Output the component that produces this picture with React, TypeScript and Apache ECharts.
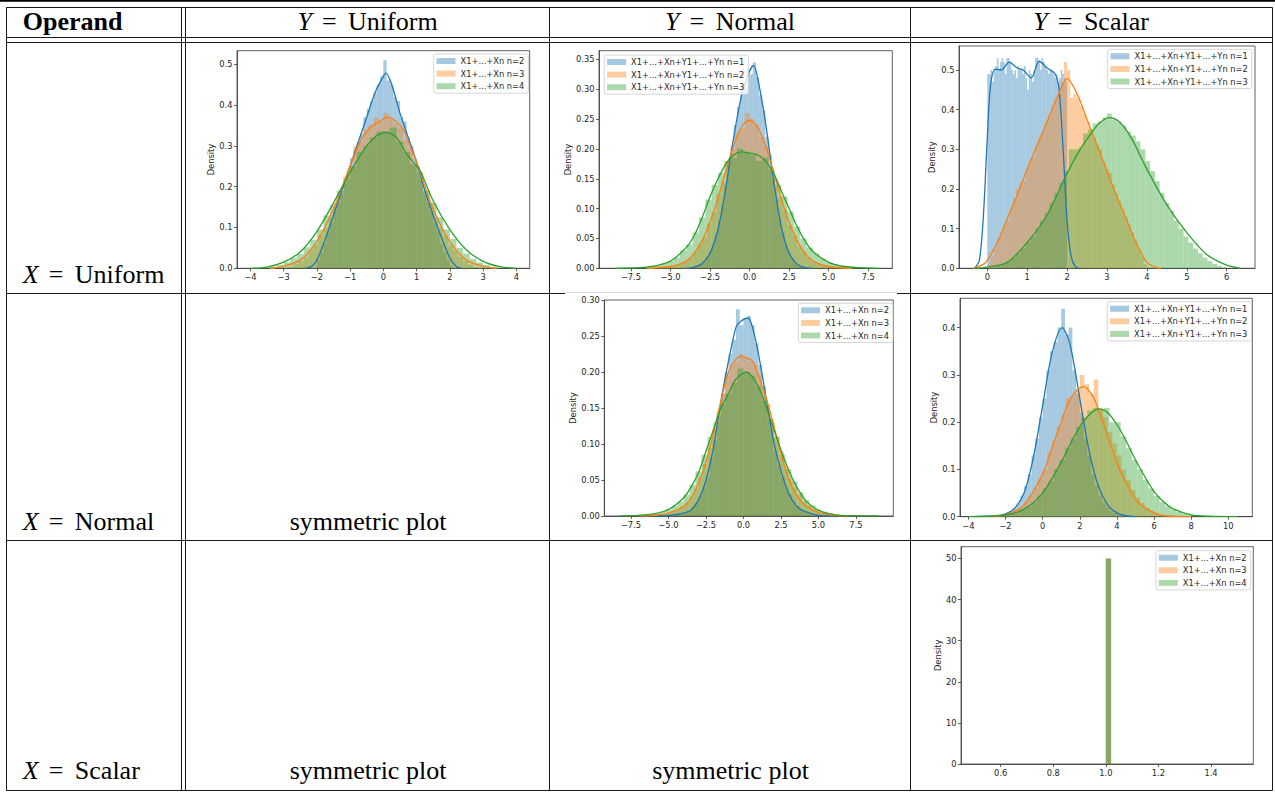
import React, { useEffect, useRef } from "react";
import * as echarts from "echarts";

// ---------- colours ----------
const SOLID = ["#1f77b4", "#ff7f0e", "#2ca02c"];
const ALPHA = ["rgba(31,119,180,0.4)", "rgba(255,127,14,0.4)", "rgba(44,160,44,0.4)"];

// ---------- legend names ----------
const sumXNames = ["X1+...+Xn n=2", "X1+...+Xn n=3", "X1+...+Xn n=4"];
const sumXYNames = ["X1+...+Xn+Y1+...+Yn n=1", "X1+...+Xn+Y1+...+Yn n=2", "X1+...+Xn+Y1+...+Yn n=3"];

// ---------- chart 1 : X uniform, Y uniform ----------
const c1BinStart = [-2.0, -3.0, -4.0];
const c1BinWidth = [0.1, 0.15, 0.2];
const c1BlueHist = [0.02, 0.04, 0.06, 0.09, 0.11, 0.14, 0.16, 0.19, 0.21, 0.24, 0.27, 0.29, 0.31, 0.33, 0.37, 0.39, 0.41, 0.43, 0.45, 0.47, 0.51, 0.46, 0.45, 0.42, 0.41, 0.37, 0.36, 0.32, 0.30, 0.27, 0.25, 0.22, 0.19, 0.16, 0.14, 0.11, 0.09, 0.06, 0.04, 0.02, 0.005];
const c1OrangeHist = [0.0, 0.004, 0.01, 0.018, 0.027, 0.045, 0.058, 0.082, 0.10, 0.125, 0.16, 0.18, 0.225, 0.25, 0.30, 0.31, 0.34, 0.35, 0.37, 0.36, 0.38, 0.365, 0.355, 0.345, 0.315, 0.295, 0.25, 0.225, 0.18, 0.16, 0.125, 0.1, 0.08, 0.058, 0.043, 0.028, 0.018, 0.009, 0.003, 0.0];
const c1GreenHist = [0.0, 0.0005, 0.002, 0.004, 0.008, 0.015, 0.025, 0.035, 0.052, 0.07, 0.095, 0.13, 0.155, 0.19, 0.22, 0.25, 0.285, 0.30, 0.32, 0.335, 0.335, 0.345, 0.31, 0.285, 0.255, 0.235, 0.19, 0.16, 0.125, 0.095, 0.072, 0.05, 0.036, 0.023, 0.014, 0.008, 0.004, 0.0015, 0.0003, 0.0];
const c1BlueKde = [[-2.35, 0], [-2.15, 0.005], [-2.0, 0.02], [-1.75, 0.07], [-1.5, 0.13], [-1.25, 0.19], [-1.0, 0.25], [-0.75, 0.31], [-0.5, 0.37], [-0.25, 0.43], [0, 0.47], [0.08, 0.478], [0.25, 0.45], [0.5, 0.38], [0.75, 0.32], [1.0, 0.26], [1.25, 0.19], [1.5, 0.13], [1.75, 0.075], [2.0, 0.025], [2.2, 0.004], [2.35, 0]];
const c1OrangeKde = [[-3.4, 0], [-3, 0.005], [-2.5, 0.02], [-2, 0.065], [-1.5, 0.145], [-1, 0.25], [-0.7, 0.31], [-0.4, 0.345], [-0.1, 0.36], [0.1, 0.37], [0.3, 0.365], [0.6, 0.34], [0.8, 0.3], [1, 0.26], [1.5, 0.145], [2, 0.065], [2.5, 0.02], [3, 0.005], [3.4, 0]];
const c1GreenKde = [[-4, 0], [-3.5, 0.003], [-3, 0.015], [-2.5, 0.04], [-2, 0.09], [-1.5, 0.16], [-1, 0.235], [-0.5, 0.3], [-0.2, 0.325], [0.1, 0.333], [0.4, 0.32], [0.7, 0.28], [0.9, 0.26], [1.1, 0.24], [1.5, 0.165], [2, 0.095], [2.5, 0.045], [3, 0.017], [3.5, 0.004], [4, 0]];
const c1XTicks = [-4, -3, -2, -1, 0, 1, 2, 3, 4];
const c1YTicks = [0, 0.1, 0.2, 0.3, 0.4, 0.5];

// ---------- chart 2 : X uniform, Y normal ----------
const c2BinStart = [-3.6, -6.0, -8.4];
const c2BinWidth = [0.2, 0.3, 0.4];
const c2BlueHist = [0.002, 0.004, 0.007, 0.012, 0.02, 0.028, 0.04, 0.058, 0.08, 0.105, 0.14, 0.175, 0.205, 0.24, 0.27, 0.29, 0.31, 0.335, 0.325, 0.345, 0.32, 0.29, 0.265, 0.22, 0.19, 0.15, 0.115, 0.085, 0.06, 0.04, 0.027, 0.018, 0.01, 0.006, 0.003, 0.001];
const c2OrangeHist = [0.0004, 0.001, 0.0015, 0.003, 0.005, 0.007, 0.012, 0.017, 0.027, 0.04, 0.052, 0.075, 0.094, 0.125, 0.145, 0.18, 0.2, 0.225, 0.235, 0.26, 0.25, 0.24, 0.22, 0.205, 0.17, 0.15, 0.12, 0.098, 0.072, 0.055, 0.037, 0.028, 0.018, 0.011, 0.007, 0.004, 0.0025, 0.0015, 0.0008, 0.0004];
const c2GreenHist = [0.0003, 0.0005, 0.0008, 0.001, 0.002, 0.003, 0.005, 0.008, 0.012, 0.018, 0.03, 0.04, 0.06, 0.085, 0.115, 0.14, 0.16, 0.18, 0.185, 0.2, 0.195, 0.19, 0.18, 0.185, 0.165, 0.14, 0.12, 0.095, 0.07, 0.05, 0.035, 0.025, 0.017, 0.01, 0.007, 0.004, 0.0025, 0.0015, 0.001, 0.0005, 0.0003, 0.0002];
const c2BlueKde = [[-4, 0], [-3.5, 0.002], [-3, 0.008], [-2.5, 0.025], [-2, 0.065], [-1.5, 0.135], [-1, 0.22], [-0.5, 0.29], [0, 0.33], [0.25, 0.34], [0.5, 0.32], [1, 0.245], [1.5, 0.15], [2, 0.07], [2.5, 0.025], [3, 0.007], [3.5, 0.001], [4, 0]];
const c2OrangeKde = [[-6.5, 0], [-6, 0.0005], [-5, 0.003], [-4.5, 0.006], [-4, 0.012], [-3.5, 0.025], [-3, 0.046], [-2.5, 0.077], [-2, 0.117], [-1.5, 0.163], [-1, 0.206], [-0.5, 0.237], [0, 0.248], [0.5, 0.237], [1, 0.206], [1.5, 0.163], [2, 0.117], [2.5, 0.077], [3, 0.046], [3.5, 0.025], [4, 0.012], [5, 0.003], [6, 0.0005], [6.5, 0]];
const c2GreenKde = [[-8.5, 0], [-7, 0.001], [-6, 0.004], [-5, 0.012], [-4, 0.035], [-3.5, 0.055], [-3, 0.085], [-2.5, 0.12], [-2, 0.15], [-1.5, 0.175], [-1, 0.19], [-0.5, 0.195], [0, 0.193], [0.5, 0.19], [1, 0.18], [1.5, 0.16], [2, 0.13], [2.5, 0.1], [3, 0.07], [3.5, 0.046], [4, 0.028], [5, 0.01], [6, 0.003], [7, 0.001], [8.2, 0]];
const c2XTicks = [-7.5, -5, -2.5, 0, 2.5, 5, 7.5];
const c2YTicks = [0, 0.05, 0.1, 0.15, 0.2, 0.25, 0.3, 0.35];

// ---------- chart 3 : X uniform, Y scalar ----------
const c3BinStart = [0, 0, 0];
const c3BinWidth = [0.04, 0.08, 0.12];
const c3BlueHist = [0.49, 0.49, 0.5, 0.47, 0.5, 0.51, 0.53, 0.5, 0.52, 0.53, 0.52, 0.49, 0.53, 0.53, 0.52, 0.5, 0.49, 0.5, 0.48, 0.51, 0.5, 0.5, 0.49, 0.51, 0.48, 0.45, 0.5, 0.49, 0.47, 0.5, 0.53, 0.53, 0.52, 0.5, 0.53, 0.52, 0.51, 0.5, 0.49, 0.5, 0.5, 0.49, 0.48, 0.49, 0.47, 0.48, 0.5, 0.49, 0.48, 0.47];
const c3OrangeHist = [0.01, 0.03, 0.05, 0.075, 0.09, 0.11, 0.12, 0.15, 0.175, 0.2, 0.215, 0.22, 0.25, 0.27, 0.28, 0.31, 0.33, 0.345, 0.37, 0.385, 0.41, 0.43, 0.44, 0.47, 0.52, 0.5, 0.43, 0.44, 0.43, 0.41, 0.39, 0.37, 0.35, 0.33, 0.31, 0.3, 0.27, 0.25, 0.24, 0.21, 0.19, 0.17, 0.15, 0.13, 0.11, 0.09, 0.07, 0.05, 0.03, 0.01];
const c3GreenHist = [0.0002, 0.002, 0.006, 0.011, 0.018, 0.027, 0.038, 0.05, 0.065, 0.08, 0.1, 0.12, 0.14, 0.165, 0.19, 0.215, 0.245, 0.3, 0.3, 0.305, 0.34, 0.35, 0.365, 0.37, 0.38, 0.39, 0.375, 0.37, 0.36, 0.345, 0.335, 0.32, 0.3, 0.27, 0.245, 0.22, 0.19, 0.165, 0.145, 0.12, 0.1, 0.08, 0.065, 0.05, 0.038, 0.027, 0.018, 0.011, 0.006, 0.002];
const c3BlueKde = [[-0.32, 0], [-0.2, 0.02], [-0.1, 0.13], [0, 0.33], [0.08, 0.46], [0.2, 0.502], [0.35, 0.5], [0.55, 0.52], [0.75, 0.505], [0.9, 0.5], [1.1, 0.48], [1.3, 0.522], [1.5, 0.505], [1.7, 0.49], [1.8, 0.45], [1.9, 0.3], [2.0, 0.12], [2.1, 0.03], [2.2, 0.005], [2.3, 0]];
const c3OrangeKde = [[-0.35, 0], [-0.1, 0.01], [0, 0.02], [0.25, 0.065], [0.5, 0.125], [0.75, 0.185], [1, 0.25], [1.25, 0.31], [1.5, 0.37], [1.75, 0.43], [2, 0.478], [2.25, 0.44], [2.5, 0.375], [2.75, 0.31], [3, 0.245], [3.25, 0.18], [3.5, 0.12], [3.75, 0.06], [4, 0.015], [4.2, 0.003], [4.35, 0]];
const c3GreenKde = [[-0.35, 0], [0, 0.003], [0.5, 0.015], [1, 0.065], [1.5, 0.135], [2, 0.24], [2.3, 0.295], [2.6, 0.34], [2.8, 0.365], [3.05, 0.38], [3.3, 0.37], [3.6, 0.33], [4, 0.25], [4.5, 0.16], [5, 0.09], [5.5, 0.035], [6, 0.008], [6.35, 0]];
const c3XTicks = [0, 1, 2, 3, 4, 5, 6];
const c3YTicks = [0, 0.1, 0.2, 0.3, 0.4, 0.5];

// ---------- chart 4 : X normal, Y normal ----------
const c4BinStart = [-5.0, -6.0, -8.4];
const c4BinWidth = [0.25, 0.3, 0.4];
const c4BlueHist = [0.001, 0.0015, 0.002, 0.003, 0.005, 0.008, 0.012, 0.018, 0.027, 0.04, 0.055, 0.08, 0.105, 0.14, 0.17, 0.2, 0.225, 0.245, 0.287, 0.265, 0.275, 0.278, 0.265, 0.24, 0.21, 0.18, 0.15, 0.12, 0.09, 0.07, 0.055, 0.04, 0.03, 0.02, 0.013, 0.009, 0.006, 0.004, 0.002, 0.001];
const c4OrangeHist = [0.0008, 0.0012, 0.002, 0.004, 0.006, 0.009, 0.013, 0.019, 0.027, 0.038, 0.054, 0.072, 0.095, 0.12, 0.145, 0.17, 0.195, 0.21, 0.215, 0.225, 0.22, 0.215, 0.21, 0.195, 0.175, 0.155, 0.13, 0.11, 0.09, 0.07, 0.052, 0.04, 0.03, 0.02, 0.014, 0.009, 0.006, 0.004, 0.002, 0.001];
const c4GreenHist = [0.0002, 0.0003, 0.0005, 0.001, 0.0015, 0.0025, 0.004, 0.006, 0.009, 0.014, 0.02, 0.03, 0.043, 0.062, 0.085, 0.11, 0.13, 0.155, 0.17, 0.185, 0.205, 0.2, 0.195, 0.18, 0.16, 0.135, 0.11, 0.085, 0.065, 0.048, 0.033, 0.022, 0.015, 0.009, 0.006, 0.004, 0.0025, 0.0015, 0.001, 0.0006, 0.0004, 0.0002, 0.0001, 0.0001];
const c4BlueKde = [[-6, 0], [-5, 0.001], [-4, 0.004], [-3.5, 0.008], [-3, 0.022], [-2.5, 0.05], [-2, 0.095], [-1.5, 0.16], [-1, 0.215], [-0.5, 0.262], [-0.2, 0.27], [0.3, 0.275], [0.6, 0.262], [1, 0.225], [1.5, 0.165], [2, 0.105], [2.5, 0.063], [3, 0.032], [3.5, 0.015], [4, 0.007], [5, 0.001], [6, 0]];
const c4OrangeKde = [[-7, 0], [-6, 0.001], [-5, 0.004], [-4, 0.013], [-3.5, 0.025], [-3, 0.045], [-2.5, 0.075], [-2, 0.115], [-1.5, 0.16], [-1, 0.2], [-0.5, 0.218], [-0.2, 0.222], [0.3, 0.219], [0.6, 0.215], [1, 0.195], [1.5, 0.165], [2, 0.127], [2.5, 0.087], [3, 0.052], [3.5, 0.03], [4, 0.017], [5, 0.005], [6, 0.001], [7, 0]];
const c4GreenKde = [[-8.2, 0], [-7, 0.001], [-6, 0.003], [-5, 0.009], [-4, 0.025], [-3.5, 0.04], [-3, 0.06], [-2.5, 0.09], [-2, 0.12], [-1.5, 0.15], [-1, 0.17], [-0.5, 0.19], [0.2, 0.2], [0.7, 0.19], [1.2, 0.17], [1.7, 0.14], [2.2, 0.11], [2.7, 0.08], [3.2, 0.055], [3.7, 0.035], [4.2, 0.02], [5, 0.008], [6, 0.002], [7, 0.0005], [9, 0]];
const c4XTicks = [-7.5, -5, -2.5, 0, 2.5, 5, 7.5];
const c4YTicks = [0, 0.05, 0.1, 0.15, 0.2, 0.25, 0.3];

// ---------- chart 5 : X normal, Y scalar ----------
const c5BinStart = [-2.6, -2.5, -2.4];
const c5BinWidth = [0.2, 0.25, 0.3];
const c5BlueHist = [0.002, 0.003, 0.005, 0.007, 0.012, 0.018, 0.028, 0.045, 0.065, 0.09, 0.13, 0.165, 0.21, 0.25, 0.31, 0.35, 0.37, 0.4, 0.44, 0.385, 0.4, 0.31, 0.26, 0.22, 0.165, 0.13, 0.09, 0.065, 0.045, 0.03, 0.02, 0.012, 0.008, 0.005, 0.003, 0.0015];
const c5OrangeHist = [0.002, 0.003, 0.006, 0.009, 0.014, 0.02, 0.032, 0.045, 0.06, 0.08, 0.1, 0.135, 0.16, 0.19, 0.215, 0.25, 0.255, 0.27, 0.3, 0.28, 0.26, 0.29, 0.23, 0.21, 0.18, 0.155, 0.13, 0.1, 0.078, 0.057, 0.04, 0.029, 0.019, 0.013, 0.008, 0.005, 0.003, 0.002, 0.001, 0.0005];
const c5GreenHist = [0.002, 0.004, 0.006, 0.01, 0.015, 0.022, 0.03, 0.045, 0.06, 0.075, 0.1, 0.12, 0.145, 0.165, 0.19, 0.21, 0.225, 0.23, 0.225, 0.23, 0.2, 0.2, 0.17, 0.145, 0.12, 0.1, 0.078, 0.06, 0.044, 0.031, 0.022, 0.015, 0.01, 0.006, 0.004, 0.0023, 0.0013, 0.0007, 0.0004, 0.0002];
const c5BlueKde = [[-3.8, 0], [-2.5, 0.002], [-2, 0.006], [-1.5, 0.018], [-1, 0.05], [-0.5, 0.125], [0, 0.235], [0.5, 0.345], [1.05, 0.4], [1.4, 0.375], [1.7, 0.32], [2, 0.25], [2.5, 0.14], [3, 0.065], [3.5, 0.025], [4, 0.008], [4.5, 0.002], [5, 0]];
const c5OrangeKde = [[-3, 0], [-2, 0.004], [-1, 0.025], [0, 0.09], [0.5, 0.145], [1, 0.2], [1.5, 0.25], [2.2, 0.275], [2.7, 0.255], [3.2, 0.205], [3.7, 0.147], [4.2, 0.095], [4.7, 0.057], [5.2, 0.028], [6.2, 0.005], [7, 0.001], [8, 0]];
const c5GreenKde = [[-4, 0], [-2, 0.004], [-1, 0.016], [0, 0.05], [1, 0.115], [1.5, 0.155], [2, 0.19], [2.5, 0.215], [3, 0.228], [3.5, 0.22], [4, 0.195], [4.5, 0.16], [5, 0.12], [5.5, 0.085], [6, 0.053], [6.5, 0.032], [7, 0.017], [8, 0.004], [9, 0.001], [10.5, 0]];
const c5XTicks = [-4, -2, 0, 2, 4, 6, 8, 10];
const c5YTicks = [0, 0.1, 0.2, 0.3, 0.4];

// ---------- chart 6 : X scalar, Y scalar ----------
const c6BinStart = [1.0, 1.0, 1.0];
const c6BinWidth = [0.02, 0.02, 0.02];
const c6BlueHist = [50];
const c6OrangeHist = [50];
const c6GreenHist = [50];
const c6XTicks = [0.6, 0.8, 1.0, 1.2, 1.4];
const c6YTicks = [0, 10, 20, 30, 40, 50];

// ---------- table texts ----------
const headerTitle = "Operand";
const colVars = ["Y", "Y", "Y"];
const colWords = ["Uniform", "Normal", "Scalar"];
const rowWords = ["Uniform", "Normal", "Scalar"];
const symmetricText = "symmetric plot";

const SANS = "'DejaVu Sans', sans-serif";
const SERIF = "'Liberation Serif', 'Times New Roman', serif";
const FS = 8.3;
const TXT = "#262626";
const SPINE = "#3a3a3a";

const panels = [
  { names: sumXNames, start: c1BinStart, width: c1BinWidth, hists: [c1BlueHist, c1OrangeHist, c1GreenHist], kdes: [c1BlueKde, c1OrangeKde, c1GreenKde],
    grid: { left: 237, top: 50.7, width: 292.7, height: 217.6 }, xr: [-4.4, 4.4], yr: [0, 0.533], xt: c1XTicks, yt: c1YTicks, xd: 0, yd: 1, gap: 22, lg: { left: 433.7, top: 54 } },
  { names: sumXYNames, start: c2BinStart, width: c2BinWidth, hists: [c2BlueHist, c2OrangeHist, c2GreenHist], kdes: [c2BlueKde, c2OrangeKde, c2GreenKde],
    grid: { left: 599, top: 50.7, width: 293.3, height: 217.6 }, xr: [-9.52, 9.02], yr: [0, 0.3645], xt: c2XTicks, yt: c2YTicks, xd: 1, yd: 2, gap: 25, lg: { left: 604.3, top: 55 } },
  { names: sumXYNames, start: c3BinStart, width: c3BinWidth, hists: [c3BlueHist, c3OrangeHist, c3GreenHist], kdes: [c3BlueKde, c3OrangeKde, c3GreenKde],
    grid: { left: 959, top: 46, width: 296, height: 222.3 }, xr: [-0.71, 6.71], yr: [0, 0.5605], xt: c3XTicks, yt: c3YTicks, xd: 0, yd: 1, gap: 23, lg: { left: 1107.7, top: 49.3 } },
  { names: sumXNames, start: c4BinStart, width: c4BinWidth, hists: [c4BlueHist, c4OrangeHist, c4GreenHist], kdes: [c4BlueKde, c4OrangeKde, c4GreenKde],
    grid: { left: 604.3, top: 300, width: 289, height: 216 }, xr: [-9.28, 9.99], yr: [0, 0.3], xt: c4XTicks, yt: c4YTicks, xd: 1, yd: 2, gap: 26, lg: { left: 798.3, top: 303.3 } },
  { names: sumXYNames, start: c5BinStart, width: c5BinWidth, hists: [c5BlueHist, c5OrangeHist, c5GreenHist], kdes: [c5BlueKde, c5OrangeKde, c5GreenKde],
    grid: { left: 960, top: 298.3, width: 292.3, height: 218.4 }, xr: [-4.45, 11.29], yr: [0, 0.462], xt: c5XTicks, yt: c5YTicks, xd: 0, yd: 1, gap: 21, lg: { left: 1107.3, top: 301.7 } },
  { names: sumXNames, start: c6BinStart, width: c6BinWidth, hists: [c6BlueHist, c6OrangeHist, c6GreenHist], kdes: [null, null, null],
    grid: { left: 961, top: 546.7, width: 292.3, height: 217.3 }, xr: [0.449, 1.561], yr: [0, 52.84], xt: c6XTicks, yt: c6YTicks, xd: 1, yd: 0, gap: 19.5, lg: { left: 1156, top: 550.7 } },
];

function fmt(d: number) {
  return (v: number) => {
    const s = Math.abs(v).toFixed(d);
    return (v < -1e-9 ? "\u2212" : "") + s;
  };
}

function binData(start: number, width: number, values: number[]) {
  return values.map((v, i) => [start + i * width, start + (i + 1) * width, v]);
}

function buildOption() {
  const grid: any[] = [];
  const xAxis: any[] = [];
  const yAxis: any[] = [];
  const series: any[] = [];
  const legend: any[] = [];

  panels.forEach((p, gi) => {
    grid.push({ ...p.grid, show: true, borderColor: SPINE, borderWidth: 0.8, backgroundColor: "transparent", containLabel: false, outerBoundsMode: "none" });
    const labelStyle = { fontSize: FS, color: TXT, fontFamily: SANS };
    xAxis.push({
      type: "value", gridIndex: gi, min: p.xr[0], max: p.xr[1],
      splitLine: { show: false },
      axisLine: { show: true, onZero: false, lineStyle: { color: SPINE, width: 0.8 } },
      axisTick: { show: true, length: 3, lineStyle: { color: SPINE, width: 0.8 }, customValues: p.xt },
      axisLabel: { ...labelStyle, margin: 5, customValues: p.xt, formatter: fmt(p.xd) },
    });
    yAxis.push({
      type: "value", gridIndex: gi, min: p.yr[0], max: p.yr[1],
      name: "Density", nameLocation: "middle", nameGap: p.gap,
      nameTextStyle: { fontSize: FS, color: TXT, fontFamily: SANS },
      splitLine: { show: false },
      axisLine: { show: true, onZero: false, lineStyle: { color: SPINE, width: 0.8 } },
      axisTick: { show: true, length: 3, lineStyle: { color: SPINE, width: 0.8 }, customValues: p.yt },
      axisLabel: { ...labelStyle, margin: 4.5, customValues: p.yt, formatter: fmt(p.yd) },
    });
    for (let k = 0; k < 3; k++) {
      const fill = ALPHA[k];
      series.push({
        type: "custom", name: p.names[k], xAxisIndex: gi, yAxisIndex: gi, silent: true,
        data: binData(p.start[k], p.width[k], p.hists[k]),
        encode: { x: [0, 1], y: 2 },
        itemStyle: { color: fill },
        renderItem: (params: any, api: any) => {
          const a = api.coord([api.value(0), api.value(2)]);
          const b = api.coord([api.value(1), 0]);
          return { type: "rect", shape: { x: a[0], y: a[1], width: b[0] - a[0], height: b[1] - a[1] }, style: { fill } };
        },
      });
      const kde = p.kdes[k];
      if (kde) {
        series.push({
          type: "line", xAxisIndex: gi, yAxisIndex: gi, data: kde, smooth: 0.3,
          symbol: "none", showSymbol: false, silent: true,
          lineStyle: { color: SOLID[k], width: 1.3 }, itemStyle: { color: SOLID[k] },
        });
      }
    }
    legend.push({
      orient: "vertical", left: p.lg.left, top: p.lg.top, icon: "rect",
      itemWidth: 19, itemHeight: 6, itemGap: 2.6, padding: [2, 4, 2, 2.8],
      backgroundColor: "rgba(255,255,255,0.8)", borderColor: "#cccccc", borderWidth: 0.8, borderRadius: 2,
      selectedMode: false,
      textStyle: { fontSize: FS, color: TXT, fontFamily: SANS, lineHeight: 10 },
      data: p.names.map((n, k) => ({ name: n, itemStyle: { color: ALPHA[k] } })),
    });
  });

  // ----- table rules -----
  const L = "#1a1a1a";
  const hl = (x1: number, x2: number, y: number, c = L) => ({ type: "line", silent: true, shape: { x1, y1: y, x2, y2: y }, style: { stroke: c, lineWidth: 1 } });
  const vl = (x: number, y1: number, y2: number, c = L) => ({ type: "line", silent: true, shape: { x1: x, y1, x2: x, y2 }, style: { stroke: c, lineWidth: 1 } });
  const elements: any[] = [
    { type: "rect", silent: true, shape: { x: 0, y: 0, width: 1275, height: 1.8 }, style: { fill: "#000" } },
    hl(6, 1272.5, 7.5), hl(6, 1272.5, 37.5), hl(6, 1272.5, 42.5),
    hl(6, 565, 293.5), hl(565, 897, 292.5, "#dddddd"), hl(897, 1272.5, 293.5),
    hl(6, 1272.5, 540.5), hl(6, 1272.5, 790.5),
    vl(6.5, 7.5, 790.5), vl(181.5, 7.5, 790.5), vl(185.5, 7.5, 790.5),
    vl(549.5, 7.5, 790.5), vl(910.5, 7.5, 790.5), vl(1272.5, 7.5, 790.5),
  ];

  const CEN = 0.3375 * 26;
  const rich = {
    i: { fontStyle: "italic", fontFamily: SERIF, fontSize: 26, fill: "#000" },
    g: { width: 10.1, fontFamily: SERIF, fontSize: 26 },
    h: { width: 11.5, fontFamily: SERIF, fontSize: 26 },
  };
  const txt = (text: string, x: number, baseline: number, align: string, extra: any = {}) => ({
    type: "text", silent: true, x, y: baseline - CEN,
    style: { text, fill: "#000", fontFamily: SERIF, fontSize: 26, align, textAlign: align, verticalAlign: "middle", textVerticalAlign: "middle", rich, ...extra },
  });
  const math = (v: string, w: string) => `{i|${v}}{g| }={h| }${w}`;

  elements.push(txt(headerTitle, 22.7, 30, "left", { fontWeight: "bold" }));
  const colCenters = [367.5, 730, 1091];
  colCenters.forEach((cx, i) => elements.push(txt(math(colVars[i], colWords[i]), cx, 30, "center")));
  const rowBase = [283.3, 530, 779];
  rowBase.forEach((b, i) => elements.push(txt(math("X", rowWords[i]), 22.7, b, "left")));
  elements.push(txt(symmetricText, 368, 530, "center"));
  elements.push(txt(symmetricText, 368, 779, "center"));
  elements.push(txt(symmetricText, 730.5, 779, "center"));

  return {
    animation: false,
    backgroundColor: "#ffffff",
    grid, xAxis, yAxis, series, legend,
    graphic: { elements },
  };
}

export default function App() {
  const ref = useRef<HTMLDivElement>(null);
  useEffect(() => {
    const el = ref.current as HTMLDivElement;
    const chart = echarts.init(el, null, { renderer: "svg", width: 1275, height: 792 });
    chart.setOption(buildOption() as any);
    return () => chart.dispose();
  }, []);
  return <div ref={ref} style={{ position: "absolute", left: 0, top: 0, width: 1275, height: 792, background: "#fff" }} />;
}
